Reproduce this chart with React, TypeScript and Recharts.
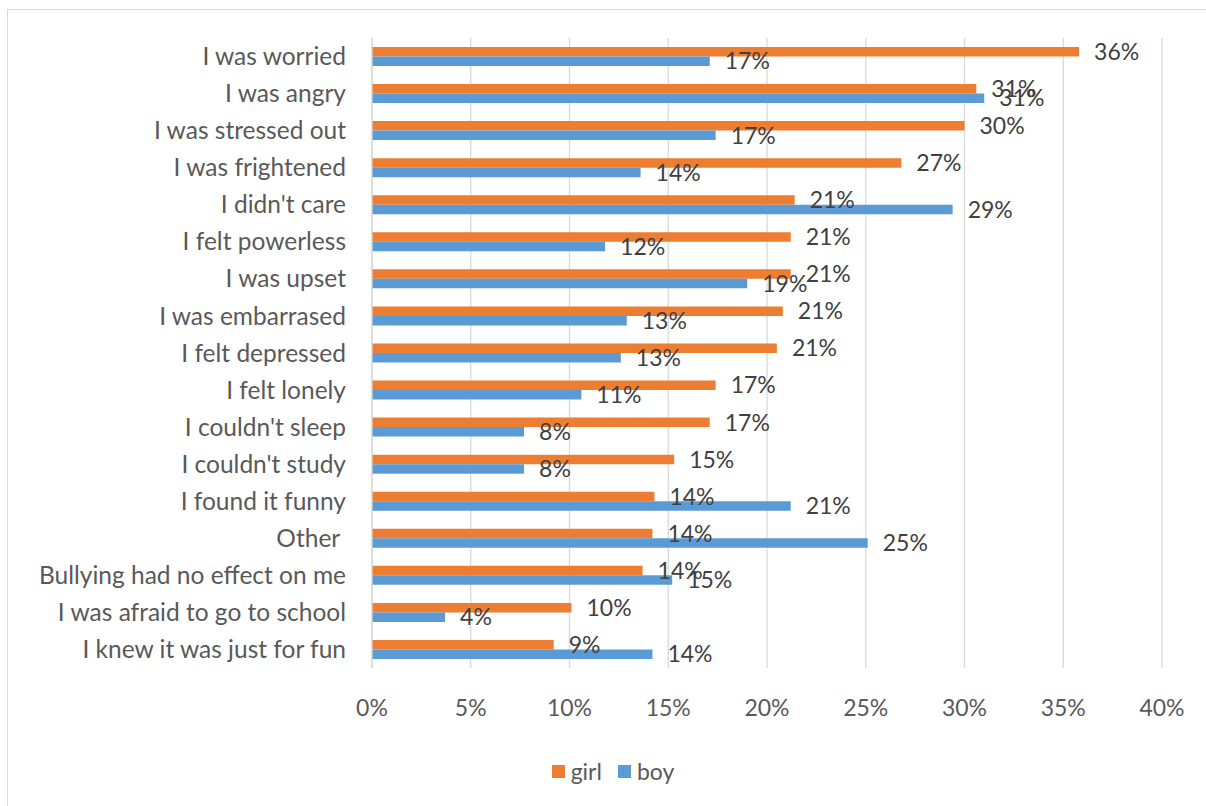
import { BarChart, Bar, XAxis, YAxis, CartesianGrid, Legend, LabelList } from 'recharts';

const categories = [
  'I was worried',
  'I was angry',
  'I was stressed out',
  'I was frightened',
  "I didn't care",
  'I felt powerless',
  'I was upset',
  'I was embarrased',
  'I felt depressed',
  'I felt lonely',
  "I couldn't sleep",
  "I couldn't study",
  'I found it funny',
  'Other ',
  'Bullying had no effect on me',
  'I was afraid to go to school',
  'I knew it was just for fun',
];

const girlValues = [35.8, 30.6, 30.0, 26.8, 21.4, 21.2, 21.2, 20.8, 20.5, 17.4, 17.1, 15.3, 14.3, 14.2, 13.7, 10.1, 9.2];
const boyValues = [17.1, 31.0, 17.4, 13.6, 29.4, 11.8, 19.0, 12.9, 12.6, 10.6, 7.7, 7.7, 21.2, 25.1, 15.2, 3.7, 14.2];

const xTicks = [0, 5, 10, 15, 20, 25, 30, 35, 40];

const GIRL = '#ED7D31';
const BOY = '#5B9BD5';
const FONT = 'Lato, "Open Sans", sans-serif';

const data = categories.map((name, i) => ({ name, girl: girlValues[i], boy: boyValues[i] }));

const pct = (v: any) => `${Math.round(Number(v))}%`;

function CategoryTick({ x, y, payload }: any) {
  return (
    <text
      x={x - 18}
      y={y}
      dy="0.35em"
      textAnchor="end"
      fill="#595959"
      fontSize={24.5}
      fontFamily={FONT}
      xmlSpace="preserve"
    >
      {payload.value}
    </text>
  );
}

function LegendContent() {
  const items = [
    { label: 'girl', color: GIRL },
    { label: 'boy', color: BOY },
  ];
  return (
    <div style={{ display: 'flex', justifyContent: 'center', fontFamily: FONT, fontSize: 23, color: '#595959', paddingLeft: 20 }}>
      {items.map((it, i) => (
        <div key={it.label} style={{ display: 'flex', alignItems: 'center', marginLeft: i === 0 ? 0 : 16 }}>
          <span style={{ display: 'inline-block', width: 13, height: 13, background: it.color, marginRight: 6 }} />
          <span>{it.label}</span>
        </div>
      ))}
    </div>
  );
}

export default function App() {
  return (
    <div style={{ position: 'fixed', left: 0, top: 0, width: 1206, height: 806, overflow: 'hidden', background: '#fff' }}>
      <div
        style={{
          position: 'absolute',
          left: 7,
          top: 9,
          width: 1240,
          height: 840,
          border: '1.5px solid #d9d9d9',
        }}
      />
      <div style={{ position: 'absolute', left: 0, top: 0 }}>
        <BarChart
          width={1206}
          height={806}
          data={data}
          layout="vertical"
          margin={{ top: 38, right: 44, bottom: 78, left: 0 }}
          barGap={0}
        >
          <CartesianGrid horizontal={false} stroke="#d9d9d9" strokeWidth={1.3} />
          <XAxis
            type="number"
            domain={[0, 40]}
            ticks={xTicks}
            tickFormatter={(v) => `${v}%`}
            axisLine={false}
            tickLine={false}
            tickMargin={26}
            height={60}
            tick={{ fill: '#595959', fontSize: 23, fontFamily: FONT }}
            interval={0}
          />
          <YAxis
            type="category"
            dataKey="name"
            width={372}
            axisLine={{ stroke: '#d9d9d9', strokeWidth: 1.3 }}
            tickLine={false}
            tick={<CategoryTick />}
            interval={0}
          />
          <Legend verticalAlign="middle" align="center" wrapperStyle={{ top: 757, left: 0, width: 1206 }} content={<LegendContent />} />
          <Bar dataKey="girl" name="girl" fill={GIRL} barSize={9.5} isAnimationActive={false}>
            <LabelList dataKey="girl" position="right" offset={15} formatter={pct} fill="#404040" fontSize={23} fontFamily={FONT} />
          </Bar>
          <Bar dataKey="boy" name="boy" fill={BOY} barSize={9.5} isAnimationActive={false}>
            <LabelList dataKey="boy" position="right" offset={15} formatter={pct} fill="#404040" fontSize={23} fontFamily={FONT} />
          </Bar>
        </BarChart>
      </div>
    </div>
  );
}
